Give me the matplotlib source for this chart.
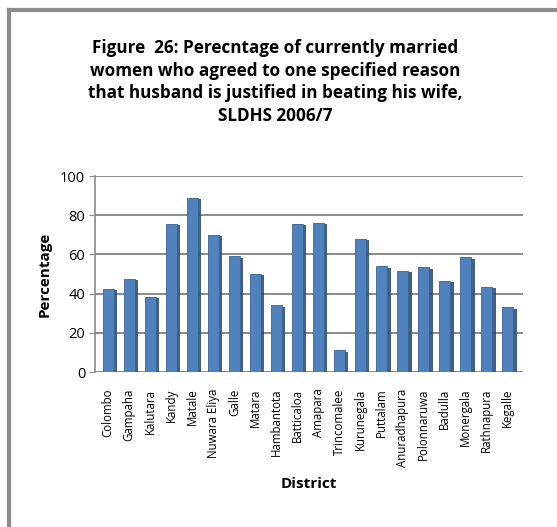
import matplotlib.pyplot as plt
import matplotlib.patheffects as pe
from matplotlib.lines import Line2D

districts = [
    "Colombo", "Gampaha", "Kalutara", "Kandy", "Matale", "Nuwara Eliya",
    "Galle", "Matara", "Hambantota", "Batticaloa", "Amapara", "Trincomalee",
    "Kurunegala", "Puttalam", "Anuradhapura", "Polonnaruwa", "Badulla",
    "Monergala", "Rathnapura", "Kegalle",
]
percentage = [
    42.5, 47.5, 38.5, 75.5, 88.8, 70.0, 59.0, 50.0, 34.0, 75.5,
    76.0, 11.0, 68.0, 54.0, 51.5, 53.5, 46.5, 58.5, 43.5, 33.0,
]
y_ticks = [0, 20, 40, 60, 80, 100]

W, H = 557, 527
plt.rcParams["font.family"] = ["Open Sans", "DejaVu Sans"]

fig = plt.figure(figsize=(W / 100, H / 100), dpi=100)
fig.patch.set_facecolor("white")

# gray frame, only top and left edges are visible in the crop
fig.add_artist(Line2D([9 / W, 1], [1 - 10 / H, 1 - 10 / H], color="#8c8c8c", lw=3,
                      transform=fig.transFigure))
fig.add_artist(Line2D([9 / W, 9 / W], [0, 1 - 10 / H], color="#8c8c8c", lw=3,
                      transform=fig.transFigure))

left, right = 95, 523
top, bottom = 176, 372
ax = fig.add_axes([left / W, 1 - bottom / H, (right - left) / W, (bottom - top) / H])

x = range(len(districts))
ax.bar(x, percentage, width=0.52, color="#4F81BD", edgecolor="#3A6496", linewidth=0.6,
       zorder=3,
       path_effects=[pe.SimplePatchShadow(offset=(2.5, -1), shadow_rgbFace="#2F4F7A", alpha=0.9),
                     pe.Normal()])

ax.set_xlim(-0.62, 19.72)
ax.set_ylim(0, 100)
ax.set_yticks(y_ticks)
ax.set_yticklabels([str(v) for v in y_ticks], fontsize=10.5)
ax.yaxis.grid(True, color="#8a8a8a", linewidth=1.4, zorder=0)
ax.set_axisbelow(True)

ax.set_xticks(list(x))
ax.set_xticklabels(districts, rotation=90, fontsize=8.3)
ax.tick_params(axis="x", length=0, pad=12)
ax.tick_params(axis="y", length=4, color="#8a8a8a", pad=3)

for side in ["top", "right", "bottom"]:
    ax.spines[side].set_visible(False)
ax.spines["left"].set_color("#8a8a8a")
ax.spines["left"].set_linewidth(1.2)

ax.set_ylabel("Percentage", fontsize=11, fontweight="bold", labelpad=6)
ax.set_xlabel("District", fontsize=11, fontweight="bold", labelpad=7)

fig.text(275 / W, 1 - 82 / H,
         "Figure  26: Perecntage of currently married\n"
         "women who agreed to one specified reason\n"
         "that husband is justified in beating his wife,\n"
         "SLDHS 2006/7",
         ha="center", va="center", fontsize=12.3, fontweight="bold",
         linespacing=1.32)

fig.savefig("out.png", dpi=100)
